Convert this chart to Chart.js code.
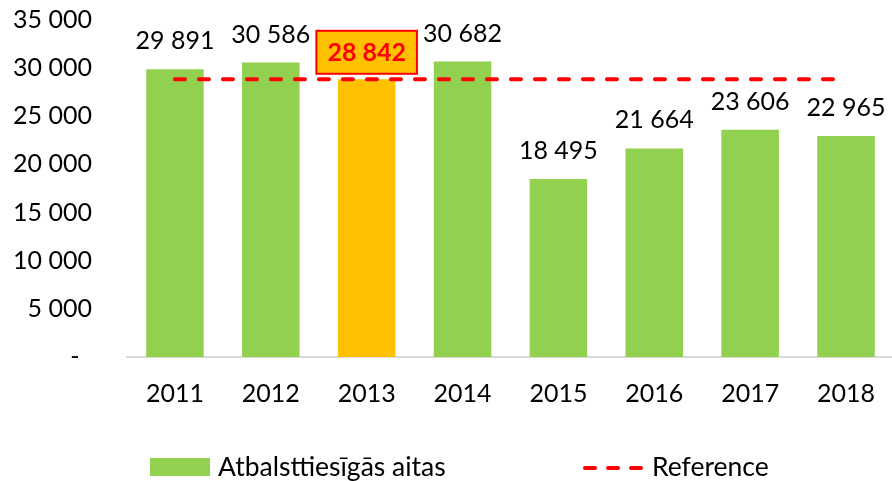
<!DOCTYPE html>
<html>
<head>
<meta charset="utf-8">
<script src="https://cdn.jsdelivr.net/npm/chart.js@4"></script>
<style>
  body { margin: 0; background: #fff; overflow: hidden; }
  #wrap { width: 897px; height: 481px; }
</style>
</head>
<body>
<div id="wrap"><canvas id="chart" width="897" height="481"></canvas></div>
<script>
// Dati no attēla
const years = ["2011", "2012", "2013", "2014", "2015", "2016", "2017", "2018"];
const sheep = [29891, 30586, 28842, 30682, 18495, 21664, 23606, 22965];
const reference = [28842, 28842, 28842, 28842, 28842, 28842, 28842, 28842];
const highlightYear = "2013";
const yTicks = [0, 5000, 10000, 15000, 20000, 25000, 30000, 35000];

const GREEN = "#92D050";
const ORANGE = "#FFC000";
const RED = "#FF0000";
const FONT = "Lato, 'Open Sans', sans-serif";

// 30586 -> "30 586"
function fmt(v){
    return String(Math.round(v)).replace(/\B(?=(\d{3})+(?!\d))/g, " ");
}

// Vērtību uzraksti virs stabiņiem
const valueLabels = {
    id: "valueLabels",
    afterDatasetsDraw(chart){
        const ctx = chart.ctx;
        const meta = chart.getDatasetMeta(1);
        ctx.save();
        ctx.textAlign = "center";
        ctx.textBaseline = "middle";
        meta.data.forEach((bar, i) => {
            const x = bar.x;
            const y = bar.y - 28;
            const txt = fmt(sheep[i]);
            if (years[i] === highlightYear) {
                ctx.font = "bold 25px " + FONT;
                const w = ctx.measureText(txt).width + 22;
                const h = 43;
                ctx.fillStyle = ORANGE;
                ctx.fillRect(x - w / 2, y - h / 2 + 1, w, h);
                ctx.strokeStyle = RED;
                ctx.lineWidth = 2;
                ctx.strokeRect(x - w / 2, y - h / 2 + 1, w, h);
                ctx.fillStyle = RED;
                ctx.fillText(txt, x, y + 2);
            } else {
                ctx.font = "25px " + FONT;
                ctx.fillStyle = "#000";
                ctx.fillText(txt, x, y);
            }
        });
        ctx.restore();
    }
};

// Leģenda apakšā
const bottomLegend = {
    id: "bottomLegend",
    afterDraw(chart){
        const ctx = chart.ctx;
        const cy = 467;
        ctx.save();
        ctx.font = "26.5px " + FONT;
        ctx.textBaseline = "middle";
        ctx.textAlign = "left";
        ctx.fillStyle = GREEN;
        ctx.fillRect(150, 458, 60, 18);
        ctx.fillStyle = "#000";
        ctx.fillText(chart.data.datasets[1].label, 218, cy);

        ctx.strokeStyle = RED;
        ctx.lineWidth = 4;
        ctx.lineCap = "round";
        ctx.setLineDash([10, 13]);
        ctx.beginPath();
        ctx.moveTo(585, cy + 1);
        ctx.lineTo(641, cy + 1);
        ctx.stroke();
        ctx.setLineDash([]);
        ctx.fillText(chart.data.datasets[0].label, 652, cy);
        ctx.restore();
    }
};

const config = {
    type: "bar",
    data: {
        labels: years,
        datasets: [
            {
                type: "line",
                label: "Reference",
                data: reference,
                borderColor: RED,
                borderWidth: 4,
                borderDash: [10, 14],
                borderCapStyle: "round",
                pointRadius: 0,
                fill: false,
                order: 0
            },
            {
                label: "Atbalsttiesīgās aitas",
                data: sheep,
                backgroundColor: years.map(y => y === highlightYear ? ORANGE : GREEN),
                borderWidth: 0,
                categoryPercentage: 1,
                barPercentage: 0.6,
                order: 1
            }
        ]
    },
    options: {
        responsive: false,
        animation: false,
        layout: { padding: { top: 20, right: 0, bottom: 0, left: 0 } },
        plugins: {
            legend: { display: false },
            tooltip: { enabled: false }
        },
        scales: {
            x: {
                grid: { display: false, drawTicks: false },
                border: { display: true, color: "#d9d9d9", width: 2 },
                ticks: { color: "#000", font: { family: FONT, size: 25 }, padding: 22 },
                afterFit(scale){ scale.height = 124; }
            },
            y: {
                min: 0,
                max: 35000,
                grid: { display: false, drawTicks: false },
                border: { display: false },
                afterBuildTicks(scale){ scale.ticks = yTicks.map(v => ({ value: v })); },
                afterFit(scale){
                    scale.width = 127;
                    scale.paddingTop = 0;
                    scale.paddingBottom = 0;
                },
                ticks: {
                    color: "#000",
                    font: { family: FONT, size: 25 },
                    padding: 35,
                    callback: v => v === 0 ? "-\u2002" : fmt(v)
                }
            }
        }
    },
    plugins: [valueLabels, bottomLegend]
};

new Chart(document.getElementById("chart"), config);
</script>
</body>
</html>
